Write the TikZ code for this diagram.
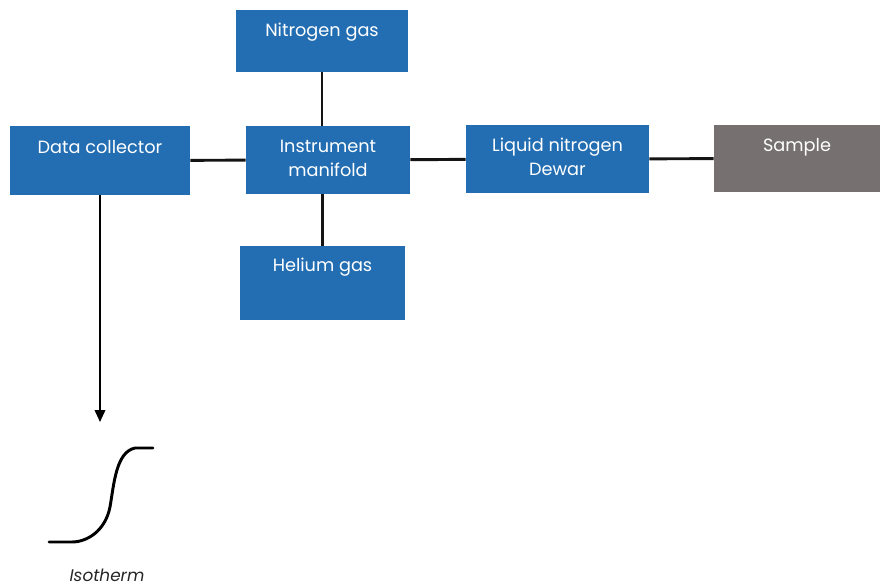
\documentclass[tikz,border=0pt]{standalone}
\usepackage{fontspec}
\setmainfont{Poppins}
\usetikzlibrary{arrows.meta}
\definecolor{unitblue}{RGB}{35,110,178}
\definecolor{samplegrey}{RGB}{118,113,112}
\tikzset{
  unit/.style={fill=unitblue, text=white, align=center, inner sep=0pt,
    font=\fontsize{12.6}{17}\selectfont},
  pipe/.style={line width=2.1pt, black!92},
}

\begin{document}
\begin{tikzpicture}[x=0.025cm, y=-0.025cm]
	%%%%% START %%%%%
	\useasboundingbox (0, 0) rectangle (880, 585);

	% boxes of the set-up
	\node[unit, minimum width=4.3cm, minimum height=1.55cm] (nitrogen) at (322, 41) {\strut Nitrogen gas\\[-4pt]\strut};
	\node[unit, minimum width=4.1cm, minimum height=1.7cm] (manifold) at (328, 160) {\strut Instrument\\\strut manifold};
	\node[unit, minimum width=4.125cm, minimum height=1.85cm] (helium) at (322.5, 283) {\strut Helium gas\\[6pt]\strut};
	\node[unit, minimum width=4.5cm, minimum height=1.7cm] (datac) at (100, 160.5) {\strut Data collector\\\strut};
	\node[unit, minimum width=4.575cm, minimum height=1.7cm] (dewar) at (557.5, 159) {\strut Liquid nitrogen\\\strut Dewar};
	\node[unit, fill=samplegrey, minimum width=4.15cm, minimum height=1.675cm] (sample) at (797, 158.5) {\strut Sample\\\strut};

	% pipes between them
	\draw[pipe] (nitrogen.south) -- (nitrogen.south |- manifold.north);
	\draw[pipe] (manifold.south -| helium.north) -- (helium.north);
	\draw[pipe] (datac) -- (manifold);
	\draw[pipe] (manifold) -- (dewar);
	\draw[pipe] (dewar) -- (sample);

	% data goes down to the isotherm
	\coordinate (isotop) at (100, 422);
	\draw[line width=1.3pt, -{Triangle[length=8.5pt, width=7.5pt]}] (datac.south) -- (isotop);

	\draw[line width=2.1pt, line cap=round] (49, 542) -- (72, 542)
		.. controls (86, 542) and (105, 532) .. (110, 507)
		.. controls (114, 484) and (116, 452) .. (135, 448) -- (153, 448);
	\node[font=\itshape\fontsize{12}{14}\selectfont, text=black!85] (isolabel) at (107, 575) {Isotherm};
	%%%%% END %%%%%
\end{tikzpicture}
\end{document}
